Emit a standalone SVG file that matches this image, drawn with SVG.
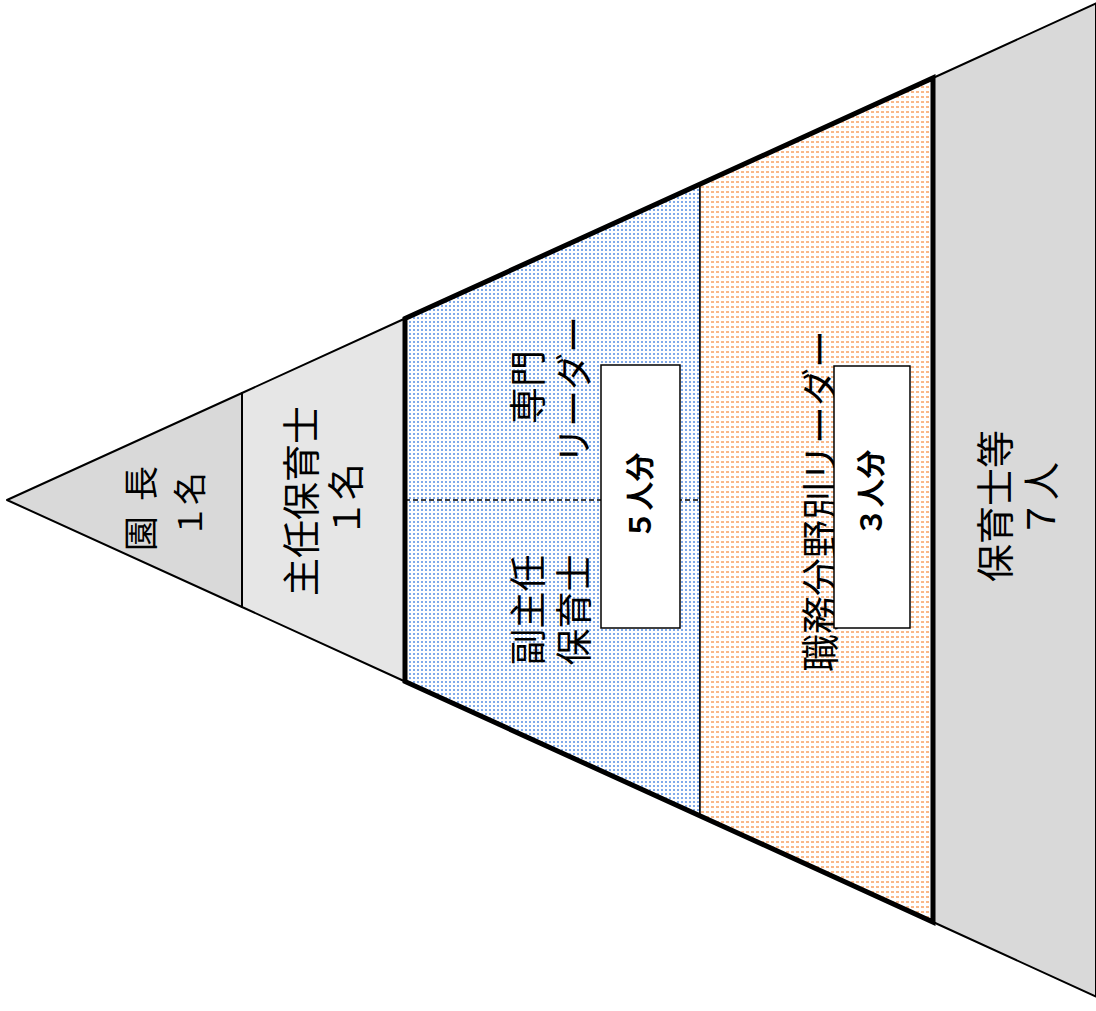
<svg xmlns="http://www.w3.org/2000/svg" width="1096" height="1011" viewBox="0 0 1096 1011">
<style>
.t{font-family:"Noto Sans CJK JP","Noto Sans CJK SC",sans-serif;fill:#000;text-anchor:middle;dominant-baseline:central}
.b{font-weight:bold}
.sec{stroke:#000;stroke-width:2;stroke-linejoin:round}
</style>
<defs>
<pattern id="blueDots" width="4" height="4" patternUnits="userSpaceOnUse">
<rect width="4" height="4" fill="#ffffff"/>
<rect x="1" y="1" width="2" height="2" fill="#80aaea"/>
</pattern>
<pattern id="orangeDots" width="5" height="5" patternUnits="userSpaceOnUse">
<rect width="5" height="5" fill="#ffffff"/>
<rect x="1" y="1" width="3" height="2" fill="#f9b889"/>
</pattern>
</defs>
<rect width="1096" height="1011" fill="#ffffff"/>
<g id="encho">
<polygon class="sec" points="7,500 242,393 242,607" fill="#d9d9d9"/>
<text class="t" font-size="35" transform="translate(138,501) rotate(-90)" letter-spacing="15">園長</text>
<text class="t" font-size="33" transform="translate(188,505) rotate(-90)">１名</text>
</g>
<g id="shunin">
<polygon class="sec" points="242,393 405,318.5 405,681.5 242,607" fill="#e6e6e6"/>
<text class="t" font-size="38" transform="translate(298,501) rotate(-90)">主任保育士</text>
<text class="t" font-size="37" transform="translate(344,500) rotate(-90)">１名</text>
</g>
<g id="fukushunin">
<polygon points="405,318.5 700,184 700,816 405,681.5" fill="url(#blueDots)" stroke="#000" stroke-width="1.5"/>
<line x1="405" y1="500" x2="700" y2="500" stroke="#000" stroke-width="1.3" stroke-dasharray="5,3"/>
<text class="t" font-size="37" transform="translate(526,610) rotate(-90)">副主任</text>
<text class="t" font-size="37" transform="translate(572,610) rotate(-90)">保育士</text>
<text class="t" font-size="37" transform="translate(526,387) rotate(-90)">専門</text>
<text class="t" font-size="37" transform="translate(572,390) rotate(-90)">リーダー</text>
<rect x="601" y="365" width="79" height="263" fill="#ffffff" stroke="#000" stroke-width="1.5"/>
<text class="t b" font-size="29" transform="translate(638,496) rotate(-90)">５人分</text>
</g>
<g id="shokumu">
<polygon points="700,184 933,78 933,922 700,816" fill="url(#orangeDots)" stroke="#000" stroke-width="1.5"/>
<text class="t" font-size="38" transform="translate(817,501) rotate(-90)">職務分野別リーダー</text>
<rect x="834" y="366" width="76" height="262" fill="#ffffff" stroke="#000" stroke-width="1.5"/>
<text class="t b" font-size="29" transform="translate(869,493) rotate(-90)">３人分</text>
</g>
<g id="hoikushi">
<polygon class="sec" points="933,78 1096,3.4 1096,996.6 933,922" fill="#d9d9d9"/>
<text class="t" font-size="38" transform="translate(992,506) rotate(-90)">保育士等</text>
<text class="t" font-size="38" transform="translate(1038,500) rotate(-90)">７人</text>
</g>
<g id="leader-outline">
<polygon points="405,318.5 933,78 933,922 405,681.5" fill="none" stroke="#000" stroke-width="5" stroke-linejoin="miter"/>
</g>
</svg>
